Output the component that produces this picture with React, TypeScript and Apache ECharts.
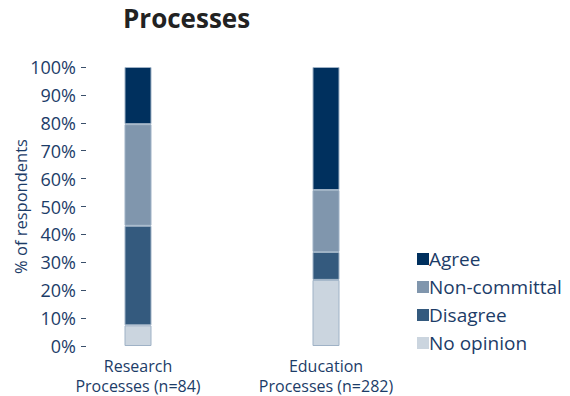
import React, { useEffect, useRef } from "react";
import * as echarts from "echarts";

const categories = ["Research\nProcesses (n=84)", "Education\nProcesses (n=282)"];
const noOpinion = [7.4, 23.7];
const disagree = [35.7, 10.0];
const nonCommittal = [36.4, 22.2];
const agree = [20.5, 44.1];
const legendOrder = ["Agree", "Non-committal", "Disagree", "No opinion"];

const TXT = "#1c3c68";
const FONT = "Open Sans";

export default function App() {
  const ref = useRef<HTMLDivElement>(null);
  useEffect(() => {
    const chart = echarts.init(ref.current!, null, { renderer: "svg" });
    const mk = (name: string, data: number[], color: string) => ({
      name,
      type: "bar",
      stack: "total",
      data,
      barWidth: 27,
      itemStyle: { color, borderColor: "#9fb2c6", borderWidth: 1 },
    });
    chart.setOption({
      animation: false,
      title: {
        text: "Processes",
        left: 118,
        top: 0,
        textStyle: { fontFamily: FONT, fontSize: 26, fontWeight: "bold", color: "#222" },
      },
      legend: {
        data: legendOrder,
        orient: "vertical",
        left: 412,
        top: 243,
        itemWidth: 12,
        itemHeight: 12,
        itemGap: 6,
        icon: "rect",
        itemStyle: { borderWidth: 0 },
        textStyle: { fontFamily: FONT, fontSize: 19, lineHeight: 22, color: TXT, padding: [0, 0, 0, -5] },
      },
      grid: { left: 44, right: 150, top: 67, bottom: 50, containLabel: false, outerBoundsMode: "none" },
      xAxis: {
        type: "category",
        data: categories,
        axisLine: { show: false },
        axisTick: { show: false },
        axisLabel: { fontFamily: FONT, fontSize: 16, color: TXT, margin: 10, lineHeight: 20 },
      },
      yAxis: {
        type: "value",
        min: 0,
        max: 100,
        interval: 10,
        offset: -42,
        name: "% of respondents",
        nameLocation: "middle",
        nameGap: 57,
        nameMoveOverlap: false,
        nameTextStyle: { fontFamily: FONT, fontSize: 16.5, color: TXT },
        axisLine: { show: false },
        axisTick: { show: true, inside: false, length: 5, lineStyle: { color: "#3a4f6a" } },
        splitLine: { show: false },
        axisLabel: {
          fontFamily: FONT,
          fontSize: 18,
          color: TXT,
          margin: 10,
          formatter: (v: number) => v + "%",
        },
      },
      series: [
        mk("No opinion", noOpinion, "#cbd5df"),
        mk("Disagree", disagree, "#345a7e"),
        mk("Non-committal", nonCommittal, "#8096ad"),
        mk("Agree", agree, "#00305e"),
      ],
    });
    return () => chart.dispose();
  }, []);
  return <div ref={ref} style={{ width: 570, height: 396, position: "absolute", left: 0, top: 0 }} />;
}
